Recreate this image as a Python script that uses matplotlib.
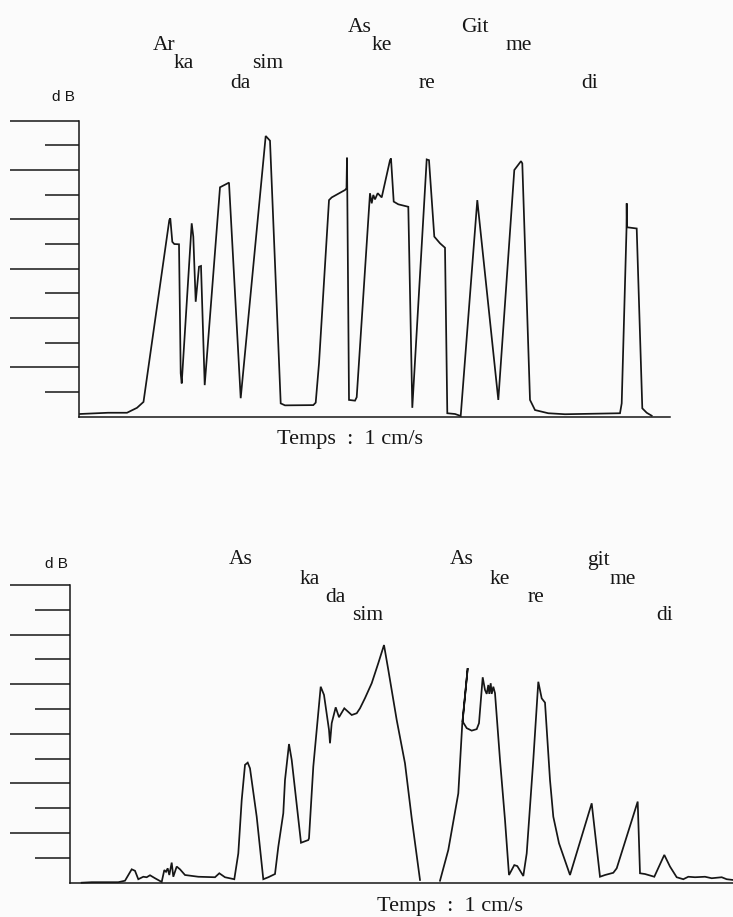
import matplotlib
matplotlib.use("Agg")
import matplotlib.pyplot as plt
from matplotlib.ticker import FixedLocator, NullFormatter
import numpy as np

# ---- intensity traces (time in chart units, level in dB grid steps) ----
top_time = [80, 108, 127, 137, 143.5, 169.3, 170.3, 172.3, 174.3, 179, 180.7, 181.7,
            191.7, 193.3, 195.7, 199, 201, 204.7, 220, 229, 240.7, 265.7, 270, 280.7,
            285, 313.3, 315.7, 319, 329, 331.7, 345, 346.5, 347, 349, 355, 356.7, 370,
            371.7, 373.3, 375, 377.7, 381.7, 390, 391, 393.7, 398.3, 408.3, 412.3,
            426.7, 429, 434.3, 440, 445, 447.3, 455, 460.7, 477.3, 478.3, 498.3, 514.3,
            521, 522.3, 530, 535, 548.3, 565, 620, 621.7, 626.5, 626.7, 627, 636.7,
            642.3, 646.7, 651.7]
top_level = [0.11, 0.16, 0.16, 0.36, 0.6, 7.97, 8.04, 7.09, 7.0, 6.99, 1.76, 1.35,
             7.84, 7.3, 4.66, 6.08, 6.11, 1.28, 9.3, 9.49, 0.75, 11.38, 11.19, 0.54,
             0.46, 0.47, 0.57, 2.16, 8.78, 8.89, 9.19, 9.26, 10.5, 0.68, 0.65, 0.79, 9.06,
             8.65, 8.99, 8.81, 9.06, 8.89, 10.4, 10.47, 8.72, 8.61, 8.51, 0.36,
             10.43, 10.4, 7.3, 7.03, 6.85, 0.14, 0.11, 0.03, 8.78, 8.38, 0.68, 10.0,
             10.36, 10.27, 0.68, 0.27, 0.14, 0.1, 0.14, 0.54, 7.6, 8.65, 7.68, 7.63,
             0.34, 0.16, 0.04]

bottom_time = [81.7, 91.7, 118.3, 125, 131.7, 135, 138.3, 143.3, 146.7, 150, 155, 161.7,
               164.3, 166, 167.7, 169.3, 171.7, 173.3, 176.7, 180, 185, 198.3, 215, 219.3,
               225, 234.3, 238.3, 241.7, 245, 247.7, 250, 256.7, 263.3, 268.3, 275, 278.3,
               283.3, 285, 289, 291.7, 301, 308.3, 309, 313.3, 320.7, 324, 329, 330,
               331.7, 335.7, 339, 344.3, 351.7, 356.7, 360, 365, 371.7, 378.3, 384,
               388.3, 396.7, 405, 411.7, 420,
               np.nan,
               440, 448.3, 458.3, 462.3, 467.7, 462.6, 466.7, 471.7, 476.7, 479, 482.7,
               485, 486.7, 488.3, 489.3, 490.7, 491.7, 493.3, 495, 500, 505, 509, 514.3,
               517.3, 523.3, 526.7, 533.3, 538.3, 541.7, 545, 550, 553.3, 559, 570, 591.7,
               600, 605, 613.3, 616.7, 637.7, 640, 645, 654.3, 664.3, 670, 676.7, 683.3,
               688.3, 695, 705, 711.7, 721.7, 726.7, 733]
bottom_level = [0.0, 0.02, 0.02, 0.08, 0.54, 0.48, 0.14, 0.24, 0.22, 0.3, 0.18, 0.03,
                0.51, 0.44, 0.58, 0.31, 0.81, 0.24, 0.65, 0.54, 0.31, 0.24, 0.22, 0.38,
                0.22, 0.14, 1.18, 3.33, 4.75, 4.84, 4.61, 2.66, 0.14, 0.22, 0.35, 1.45,
                2.8, 4.14, 5.59, 4.95, 1.61, 1.72, 1.79, 4.68, 7.9, 7.57, 6.16, 5.62,
                6.43, 7.07, 6.67, 7.03, 6.76, 6.83, 7.03, 7.44, 8.04, 8.85, 9.58,
                8.58, 6.56, 4.81, 2.6, 0.11,
                np.nan,
                0.08, 1.32, 3.6, 6.43, 8.65, 6.5, 6.23, 6.13, 6.19, 6.43, 8.28,
                7.77, 7.61, 7.97, 7.61, 8.04, 7.61, 7.9, 7.64, 4.95, 2.53, 0.31, 0.71,
                0.67, 0.27, 1.18, 4.95, 8.1, 7.43, 7.26, 4.14, 2.66, 1.59, 0.31, 3.2,
                0.24, 0.31, 0.4, 0.58, 3.27, 0.38, 0.35, 0.24, 1.12, 0.65, 0.22, 0.14,
                0.24, 0.22, 0.24, 0.18, 0.22, 0.14, 0.11]

# ---- syllable labels ----
top_syllables = ["Ar", "ka", "da", "sim", "As", "ke", "re", "Git", "me", "di"]
top_syll_x = [164, 184, 240, 268, 360, 382, 427, 475, 519, 590]
top_syll_y = [46, 64, 83, 64, 27, 46, 83, 27, 46, 83]

bottom_syllables = ["As", "ka", "da", "sim", "As", "ke", "re", "git", "me", "di"]
bottom_syll_x = [241, 310, 335, 368, 462, 500, 536, 598, 623, 665]
bottom_syll_y = [560, 579, 598, 616, 560, 579, 598, 560, 579, 616]

major_levels = [2, 4, 6, 8, 10, 12]
minor_levels = [1, 3, 5, 7, 9, 11]

W, H = 733, 917
INK = "#161616"
PAPER = "#fbfbfb"

fig = plt.figure(figsize=(W / 100, H / 100), dpi=100, facecolor=PAPER)


def px_rect(x0, y_top, x1, y_bot):
    return [x0 / W, 1 - y_bot / H, (x1 - x0) / W, (y_bot - y_top) / H]


def make_axes(rect, xlim, long_len, short_len):
    ax = fig.add_axes(rect)
    ax.set_facecolor("none")
    ax.set_xlim(*xlim)
    ax.set_ylim(0, 12)
    for side in ("top", "right"):
        ax.spines[side].set_visible(False)
    for side in ("left", "bottom"):
        ax.spines[side].set_color(INK)
        ax.spines[side].set_linewidth(1.1)
    ax.yaxis.set_major_locator(FixedLocator(major_levels))
    ax.yaxis.set_minor_locator(FixedLocator(minor_levels))
    ax.yaxis.set_major_formatter(NullFormatter())
    ax.yaxis.set_minor_formatter(NullFormatter())
    ax.tick_params(axis="y", which="major", direction="out", length=long_len,
                   width=1.1, color=INK)
    ax.tick_params(axis="y", which="minor", direction="out", length=short_len,
                   width=1.1, color=INK)
    ax.set_xticks([])
    return ax


serif = ["Liberation Serif", "DejaVu Serif"]
sans = ["Liberation Sans", "DejaVu Sans"]

# upper recording
ax1 = make_axes(px_rect(79, 120.7, 670, 416.7), (79, 670), 49.5, 24.5)
ax1.plot(top_time, top_level, color=INK, lw=1.25, solid_joinstyle="miter",
         clip_on=False)

# lower recording
ax2 = make_axes(px_rect(70, 585, 733, 882.7), (70, 733), 43, 25)
ax2.plot(bottom_time, bottom_level, color=INK, lw=1.25, solid_joinstyle="miter",
         clip_on=False)

for s, x, y in zip(top_syllables, top_syll_x, top_syll_y):
    fig.text(x / W, 1 - y / H, s, ha="center", va="center", fontsize=15.5,
             family=serif, color=INK)
for s, x, y in zip(bottom_syllables, bottom_syll_x, bottom_syll_y):
    fig.text(x / W, 1 - y / H, s, ha="center", va="center", fontsize=15.5,
             family=serif, color=INK)

fig.text(63 / W, 1 - 97 / H, "d B", ha="center", va="center", fontsize=11,
         family=sans, color=INK)
fig.text(56 / W, 1 - 564 / H, "d B", ha="center", va="center", fontsize=11,
         family=sans, color=INK)

fig.text(350 / W, 1 - 439 / H, "Temps  :  1 cm/s", ha="center", va="center",
         fontsize=16, family=serif, color=INK)
fig.text(450 / W, 1 - 906 / H, "Temps  :  1 cm/s", ha="center", va="center",
         fontsize=16, family=serif, color=INK)

fig.savefig("out.png", dpi=100, facecolor=PAPER)
